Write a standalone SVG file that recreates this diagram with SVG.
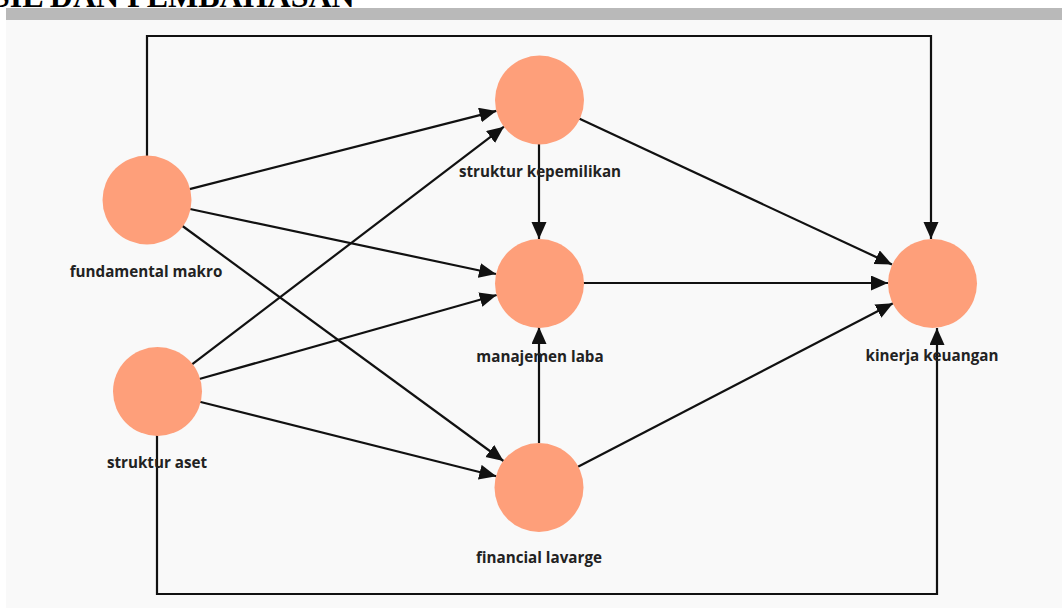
<svg xmlns="http://www.w3.org/2000/svg" width="1062" height="608" viewBox="0 0 1062 608">
<style>
.node{fill:#FE9F7A;}
.lbl{font-family:"Open Sans","Noto Sans",sans-serif;font-weight:bold;font-size:15.2px;fill:#222;text-anchor:middle;}
.edge{stroke:#111;stroke-width:2.2;fill:none;}
</style>
<defs>
<marker id="arr" markerUnits="userSpaceOnUse" markerWidth="18" markerHeight="16" refX="17" refY="7.5" orient="auto">
<path d="M0,0 L17,7.5 L0,15 z" fill="#111"/>
</marker>
</defs>
<rect x="0" y="0" width="1062" height="608" fill="#ffffff"/>
<text x="-8" y="7" font-family="Liberation Serif, serif" font-weight="bold" font-size="32" fill="#000">SIL DAN PEMBAHASAN</text>
<rect x="6" y="8" width="1056" height="12" fill="#b9b9b9"/>
<rect x="6" y="20" width="1056" height="588" fill="#f9f9f9"/>
<g id="connectors">
<path class="edge" marker-end="url(#arr)" d="M147,156 V36 H931 V239"/>
<path class="edge" marker-end="url(#arr)" d="M157,435 V594 H937 V328"/>
<line class="edge" marker-end="url(#arr)" x1="189.6" y1="189.1" x2="496.4" y2="110.9"/>
<line class="edge" marker-end="url(#arr)" x1="190" y1="209" x2="496" y2="274"/>
<line class="edge" marker-end="url(#arr)" x1="182.5" y1="226" x2="503.5" y2="461"/>
<line class="edge" marker-end="url(#arr)" x1="192" y1="364.3" x2="504" y2="126.7"/>
<line class="edge" marker-end="url(#arr)" x1="199.3" y1="379" x2="496.7" y2="295"/>
<line class="edge" marker-end="url(#arr)" x1="199.7" y1="401.7" x2="496.3" y2="476.3"/>
<line class="edge" marker-end="url(#arr)" x1="539" y1="144" x2="539" y2="239"/>
<line class="edge" marker-end="url(#arr)" x1="539" y1="443" x2="539" y2="327"/>
<line class="edge" marker-end="url(#arr)" x1="579" y1="118.6" x2="892" y2="264.4"/>
<line class="edge" marker-end="url(#arr)" x1="583" y1="283" x2="888" y2="283"/>
<line class="edge" marker-end="url(#arr)" x1="578" y1="466.7" x2="893" y2="303.3"/>
</g>
<g id="fundamental-makro"><circle class="node" cx="147" cy="200" r="44.5"/><text class="lbl" x="146" y="277">fundamental makro</text></g>
<g id="struktur-aset"><circle class="node" cx="157.5" cy="391.5" r="44.5"/><text class="lbl" x="157" y="468">struktur aset</text></g>
<g id="struktur-kepemilikan"><circle class="node" cx="539.5" cy="100" r="44.5"/><text class="lbl" x="540" y="177">struktur kepemilikan</text></g>
<g id="manajemen-laba"><circle class="node" cx="539.5" cy="283.5" r="44.5"/><text class="lbl" x="540" y="362">manajemen laba</text></g>
<g id="financial-lavarge"><circle class="node" cx="539" cy="487.5" r="44.5"/><text class="lbl" x="539" y="563">financial lavarge</text></g>
<g id="kinerja-keuangan"><circle class="node" cx="932.5" cy="283.5" r="44.5"/><text class="lbl" x="932" y="361">kinerja keuangan</text></g>
</svg>
